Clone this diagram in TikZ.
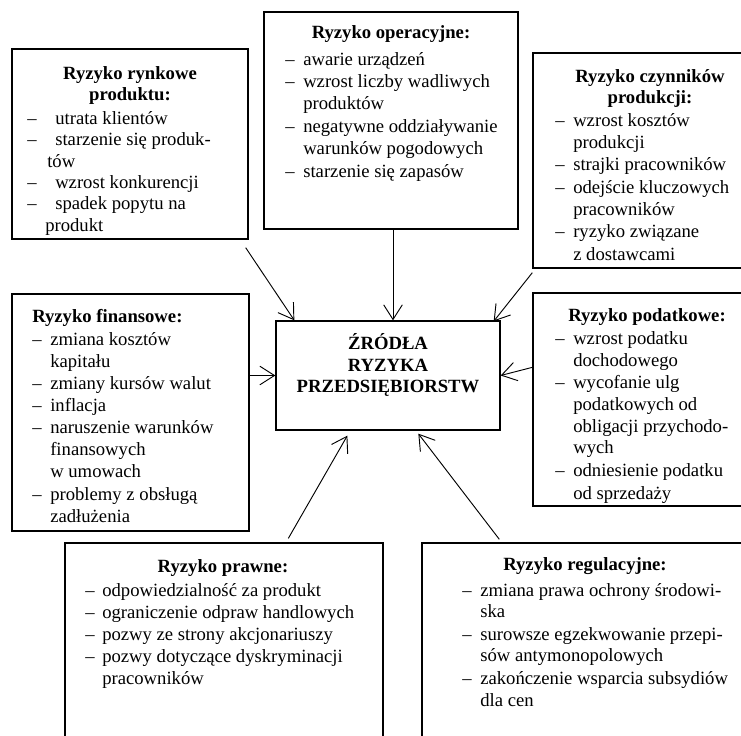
\documentclass[tikz,border=0pt]{standalone}
\usepackage{fontspec}
\setmainfont{Liberation Serif}
\usetikzlibrary{arrows.meta,calc,fit}
\newlength\pxl
\setlength\pxl{0.75pt}
\newcommand\fs{\fontsize{14pt}{17pt}\selectfont}
\newcommand\dsh[1]{\makebox[#1\pxl][l]{–}}
\begin{document}
\begin{tikzpicture}[x=0.75pt,y=-0.75pt,
  box/.style={draw,line width=1pt,inner sep=0pt},
  txt/.style={anchor=base west,inner sep=0pt,font=\fs},
  ttl/.style={anchor=base,inner sep=0pt,font=\fs\bfseries},
  arr/.style={line width=0.7pt,-{Straight Barb[length=11pt,width=14pt]}}]
\useasboundingbox (0,0) rectangle (741,735);
\clip (0,0) rectangle (741,735);
% boxes
\node[box,fit={(12,49)(248,239)}] (ryn) {};
\node[box,fit={(264,12)(518,229)}] (ope) {};
\node[box,fit={(533,53)(760,268)}] (czy) {};
\node[box,fit={(12,294)(249,531)}] (fin) {};
\node[box,fit={(276,321)(500,430)}] (ctr) {};
\node[box,fit={(533,293)(760,506)}] (pod) {};
\node[box,fit={(65,543)(383,760)}] (pra) {};
\node[box,fit={(422,543)(760,760)}] (reg) {};
% rynkowe
\node[ttl] (r0) at (130,79.5) {Ryzyko rynkowe};
\node[ttl] (r1) at (130,100.5) {produktu:};
\node[txt] (r2) at (27,124) {\dsh{28}utrata klientów};
\node[txt] (r3) at (27,145.5) {\dsh{28}starzenie się produk-};
\node[txt] (r4) at (47,167) {tów};
\node[txt] (r5) at (27,188) {\dsh{28}wzrost konkurencji};
\node[txt] (r6) at (27,209.5) {\dsh{28}spadek popytu na};
\node[txt] (r7) at (45,231) {produkt};
% operacyjne
\node[ttl] (o0) at (391,39) {Ryzyko operacyjne:};
\node[txt] (o1) at (285,65) {\dsh{18}awarie urządzeń};
\node[txt] (o2) at (285,87.5) {\dsh{18}wzrost liczby wadliwych};
\node[txt] (o3) at (303,109.5) {produktów};
\node[txt] (o4) at (285,132.5) {\dsh{18}negatywne oddziaływanie};
\node[txt] (o5) at (303,154.5) {warunków pogodowych};
\node[txt] (o6) at (285,177) {\dsh{18}starzenie się zapasów};
% czynnikow
\node[ttl] (c0) at (650,82) {Ryzyko czynników};
\node[ttl] (c1) at (650,103.5) {produkcji:};
\node[txt] (c2) at (555,126) {\dsh{18}wzrost kosztów};
\node[txt] (c3) at (573,148) {produkcji};
\node[txt] (c4) at (555,170) {\dsh{18}strajki pracowników};
\node[txt] (c5) at (555,193) {\dsh{18}odejście kluczowych};
\node[txt] (c6) at (573,215) {pracowników};
\node[txt] (c7) at (555,237) {\dsh{18}ryzyko związane};
\node[txt] (c8) at (573,260) {z dostawcami};
% finansowe
\node[txt,font=\fs\bfseries] (f0) at (32,322) {Ryzyko finansowe:};
\node[txt] (f1) at (32,345) {\dsh{18}zmiana kosztów};
\node[txt] (f2) at (50,367) {kapitału};
\node[txt] (f3) at (32,389) {\dsh{18}zmiany kursów walut};
\node[txt] (f4) at (32,411) {\dsh{18}inflacja};
\node[txt] (f5) at (32,433) {\dsh{18}naruszenie warunków};
\node[txt] (f6) at (50,455) {finansowych};
\node[txt] (f7) at (50,477) {w umowach};
\node[txt] (f8) at (32,500) {\dsh{18}problemy z obsługą};
\node[txt] (f9) at (50,522) {zadłużenia};
% centre
\node[ttl] (z0) at (388,349.5) {ŹRÓDŁA};
\node[ttl] (z1) at (388,371.5) {RYZYKA};
\node[ttl] (z2) at (388,392.5) {PRZEDSIĘBIORSTW};
% podatkowe
\node[ttl] (p0) at (647,321) {Ryzyko podatkowe:};
\node[txt] (p1) at (555,344) {\dsh{18}wzrost podatku};
\node[txt] (p2) at (573,366) {dochodowego};
\node[txt] (p3) at (555,388) {\dsh{18}wycofanie ulg};
\node[txt] (p4) at (573,410) {podatkowych od};
\node[txt] (p5) at (573,432) {obligacji przychodo-};
\node[txt] (p6) at (573,453) {wych};
\node[txt] (p7) at (555,476) {\dsh{18}odniesienie podatku};
\node[txt] (p8) at (573,499) {od sprzedaży};
% prawne
\node[ttl] (w0) at (223,572) {Ryzyko prawne:};
\node[txt] (w1) at (85,596) {\dsh{17}odpowiedzialność za produkt};
\node[txt] (w2) at (85,618) {\dsh{17}ograniczenie odpraw handlowych};
\node[txt] (w3) at (85,640) {\dsh{17}pozwy ze strony akcjonariuszy};
\node[txt] (w4) at (85,662) {\dsh{17}pozwy dotyczące dyskryminacji};
\node[txt] (w5) at (102,684) {pracowników};
% regulacyjne
\node[ttl] (g0) at (585,570) {Ryzyko regulacyjne:};
\node[txt] (g1) at (462,596) {\dsh{18}zmiana prawa ochrony środowi-};
\node[txt] (g2) at (480,617) {ska};
\node[txt] (g3) at (462,640) {\dsh{18}surowsze egzekwowanie przepi-};
\node[txt] (g4) at (480,661) {sów antymonopolowych};
\node[txt] (g5) at (462,684) {\dsh{18}zakończenie wsparcia subsydiów};
\node[txt] (g6) at (480,706) {dla cen};
% connectors
\draw[arr] ($(ryn.south east)+(-3,8)$) -- ($(ctr.north west)+(19,0)$);
\draw[arr] ($(ope.south)+(2,0)$) -- ($(ctr.north)+(5,0)$);
\draw[arr] ($(czy.south west)+(0,4)$) -- ($(ctr.north east)+(-7,1)$);
\draw[arr] (fin.east |- ctr.west) -- (ctr.west);
\draw[arr] ($(pod.north west)+(0,75)$) -- (ctr.east);
\draw[arr] ($(pra.north west)+(224,-4)$) -- ($(ctr.south west)+(72,5)$);
\draw[arr] ($(reg.north west)+(78,-3)$) -- ($(ctr.south west)+(143,3)$);
\end{tikzpicture}
\end{document}
